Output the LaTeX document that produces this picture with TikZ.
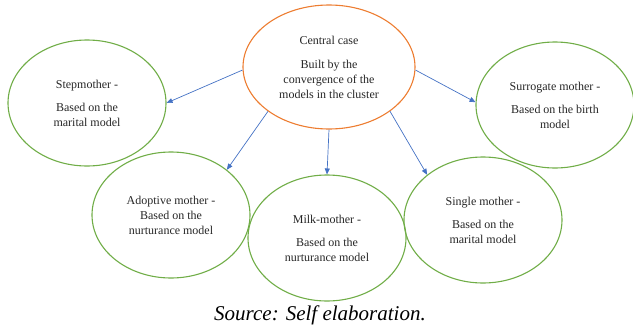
\documentclass[tikz,border=0pt]{standalone}
\usepackage{fontspec}
\setmainfont{Liberation Serif}
\usetikzlibrary{arrows.meta, shapes.geometric}

\definecolor{leafgreen}{HTML}{70AD47}
\definecolor{accentorange}{HTML}{ED7D31}
\definecolor{linkblue}{HTML}{4472C4}

\begin{document}
\begin{tikzpicture}[
    x=1pt, y=-1pt,
    model/.style={ellipse, draw=leafgreen, line width=1.1pt, minimum width=158pt, minimum height=126pt, inner sep=0pt, align=center, text=black!85, font=\fontsize{12}{15}\selectfont},
    core/.style={model, draw=accentorange, minimum width=172pt, minimum height=124pt},
    arrow/.style={-{Triangle[length=6pt, width=5pt]}, linkblue, line width=0.7pt},
]
\useasboundingbox (0,0) rectangle (633,327);

\node[core]  (central)   at (329,67)  {Central case\\[9pt]Built by the\\convergence of the\\models in the cluster};
\node[model] (step)      at (87,103)  {Stepmother -\\[8pt]Based on the\\marital model};
\node[model] (surrogate) at (555,105) {Surrogate mother -\\[8pt]Based on the birth\\model};
\node[model] (adoptive)  at (171,215) {Adoptive mother -\\Based on the\\nurturance model};
\node[model] (milk)      at (327,238) {Milk-mother -\\[8pt]Based on the\\nurturance model};
\node[model] (single)    at (483,220) {Single mother -\\[8pt]Based on the\\marital model};

\node[font=\fontsize{21}{24}\selectfont\itshape] (source) at (320,315) {Source: Self elaboration.};

\draw[arrow] (central.182) -- (step.0);
\draw[arrow] (central.216) -- (adoptive.39);
\draw[arrow] (central.270) -- (milk.90);
\draw[arrow] (central.324) -- (single.141);
\draw[arrow] (central.358) -- (surrogate.178);

\end{tikzpicture}
\end{document}
